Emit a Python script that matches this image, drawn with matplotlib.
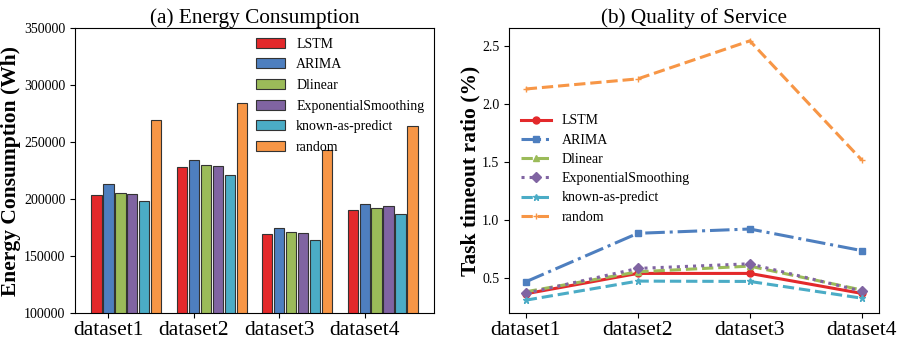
import numpy as np
import matplotlib
matplotlib.use('Agg')
import matplotlib.pyplot as plt

plt.rcParams['font.family'] = ['Liberation Serif', 'DejaVu Serif']

# data
datasets = ['dataset1', 'dataset2', 'dataset3', 'dataset4']
methods = ['LSTM', 'ARIMA', 'Dlinear', 'ExponentialSmoothing', 'known-as-predict', 'random']
colors = ['#E3292B', '#4E7FBF', '#9BBB59', '#8064A2', '#4BACC6', '#F79646']

energy_lstm = [203500, 228100, 169300, 190000]
energy_arima = [212900, 234500, 174900, 195900]
energy_dlinear = [205000, 229800, 171300, 191800]
energy_es = [204800, 229200, 170500, 193600]
energy_known = [198500, 220800, 164300, 186500]
energy_random = [269000, 284500, 242700, 264300]

qos_lstm = [0.368, 0.543, 0.543, 0.371]
qos_arima = [0.471, 0.888, 0.925, 0.739]
qos_dlinear = [0.385, 0.557, 0.606, 0.400]
qos_es = [0.372, 0.586, 0.626, 0.390]
qos_known = [0.313, 0.477, 0.474, 0.330]
qos_random = [2.129, 2.216, 2.543, 1.517]

energy = [energy_lstm, energy_arima, energy_dlinear, energy_es, energy_known, energy_random]
qos = [qos_lstm, qos_arima, qos_dlinear, qos_es, qos_known, qos_random]

fig = plt.figure(figsize=(9.04, 3.4), dpi=100)
ax1 = fig.add_axes([0.083, 0.079, 0.397, 0.839])
ax2 = fig.add_axes([0.563, 0.079, 0.409, 0.839])

# (a) bar chart
x = np.arange(len(datasets))
step = 0.14
for i, (vals, name) in enumerate(zip(energy, methods)):
    ax1.bar(x + i * step, vals, width=0.12, color=colors[i], edgecolor='#333333',
            linewidth=0.8, label=name)
ax1.set_ylim(100000, 350000)
ax1.set_xticks(x + step)
ax1.set_xticklabels(datasets, fontsize=15.5)
ax1.tick_params(axis='x', pad=2)
ax1.tick_params(axis='y', labelsize=10)
ax1.set_ylabel('Energy Consumption (Wh)', fontsize=15.5, fontweight='bold', labelpad=2)
ax1.set_title('(a) Energy Consumption', fontsize=15.3, pad=3)
ax1.legend(loc='upper right', frameon=False, fontsize=10, handlelength=2.1,
           handleheight=0.75, handletextpad=0.8, labelspacing=0.55, borderaxespad=0.3)

# (b) line chart
styles = ['-', '-.', '--', ':', '--', '--']
markers = ['o', 's', '^', 'D', '*', '+']
for i, (vals, name) in enumerate(zip(qos, methods)):
    ax2.plot(datasets, vals, linestyle=styles[i], marker=markers[i], color=colors[i],
             linewidth=2.2, markersize=5, label=name)
ax2.set_yticks([0.5, 1.0, 1.5, 2.0, 2.5])
ax2.tick_params(axis='x', labelsize=15.5, pad=2)
ax2.tick_params(axis='y', labelsize=10)
ax2.set_ylabel('Task timeout ratio (%)', fontsize=15.5, fontweight='bold', labelpad=1)
ax2.set_title('(b) Quality of Service', fontsize=15.3, pad=3)
ax2.legend(loc='center left', bbox_to_anchor=(0.0, 0.505), frameon=False, fontsize=10,
           handlelength=2.1, handletextpad=0.8, labelspacing=0.45)

fig.savefig('out.png', dpi=100)
